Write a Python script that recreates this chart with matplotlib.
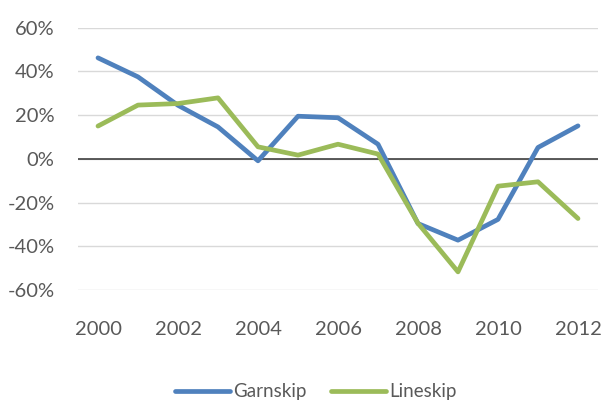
import matplotlib
matplotlib.use("Agg")
import matplotlib.pyplot as plt
from matplotlib.ticker import FuncFormatter

years = list(range(2000, 2013))
garnskip = [46.2, 37.5, 24.5, 14.6, -0.9, 19.5, 18.8, 6.7, -29.6, -37.2, -27.7, 5.2, 15.1]
lineskip = [15.0, 24.6, 25.3, 27.9, 5.5, 1.7, 6.7, 2.2, -29.5, -51.7, -12.5, -10.5, -27.3]
series_names = ["Garnskip", "Lineskip"]
colors = ["#4F81BD", "#9BBB59"]
yticks = [-60, -40, -20, 0, 20, 40, 60]
xticks = [2000, 2002, 2004, 2006, 2008, 2010, 2012]

plt.rcParams['font.family'] = ['Lato', 'DejaVu Sans']
fig = plt.figure(figsize=(6.06, 4.03), dpi=100)
ax = fig.add_axes([78/606, 1-290/403, 520/606, (290-27.7)/403])

for vals, name, c in zip([garnskip, lineskip], series_names, colors):
    ax.plot(years, vals, color=c, lw=3.4, label=name, clip_on=False,
            solid_joinstyle='round', solid_capstyle='round', zorder=3)

ax.set_xlim(years[0]-0.5, years[-1]+0.5)
ax.set_ylim(-60, 60)
ax.set_yticks(yticks)
ax.yaxis.set_major_formatter(FuncFormatter(lambda v, p: f"{int(v)}%"))
ax.set_xticks(xticks)
ax.grid(axis='y', color='#D9D9D9', lw=1.0, zorder=0)
ax.axhline(0, color='#404040', lw=1.2, zorder=2)
for s in ax.spines.values():
    s.set_visible(False)
ax.tick_params(length=0, labelsize=14.5, labelcolor='#595959')
ax.tick_params(axis='x', pad=22)
ax.tick_params(axis='y', pad=17)

leg = fig.legend(loc='center', bbox_to_anchor=(316/606, 1-392/403), ncol=2, frameon=False,
                 fontsize=13.5, handlelength=2.9, columnspacing=1.3, handletextpad=0.2)
for t in leg.get_texts():
    t.set_color('#595959')

fig.savefig("out.png", dpi=100)
